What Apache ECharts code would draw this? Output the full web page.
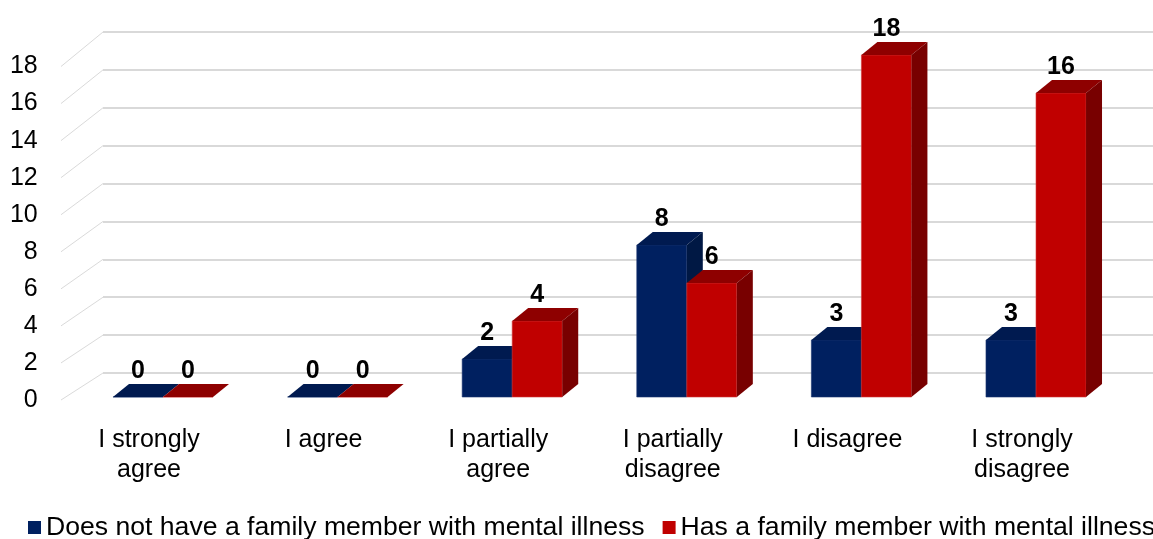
<!DOCTYPE html>
<html>
<head>
<meta charset="utf-8">
<script src="https://cdn.jsdelivr.net/npm/echarts@6/dist/echarts.min.js"></script>
<style>
  html, body { margin: 0; padding: 0; background: #fff; }
  #chart { width: 1153px; height: 539px; }
</style>
</head>
<body>
<div id="chart"></div>
<script>
// data
var categories = ['I strongly\nagree', 'I agree', 'I partially\nagree', 'I partially\ndisagree', 'I disagree', 'I strongly\ndisagree']
var noFamily = [0, 0, 2, 8, 3, 3]
var withFamily = [0, 0, 4, 6, 18, 16]
var seriesNames = ['Does not have a family member with mental illness', 'Has a family member with mental illness']

var FONT = '"Liberation Sans", Arial, sans-serif'

// 3d faces: front / top / side
var blue = { front: '#002060', top: '#001a50', side: '#001844', edge: '#1d3670' }
var red = { front: '#c00000', top: '#8e0000', side: '#780000', edge: '#d23a3a' }

function toPairs (values) {
    return values.map(function (v, i) { return [i, v] })
}

function barRender (side, col) {
    return function (params, api) {
        var cat = api.value(0)
        var val = api.value(1)
        var base = api.coord([cat, 0])
        var top = api.coord([cat, val])
        var band = api.size([1, 0])[0]
        var w = band * 0.2865
        var x0 = side < 0 ? base[0] - w : base[0]
        var x1 = x0 + w
        var yb = base[1]
        var yt = top[1]
        var dx = 16
        var dy = 13
        return {
            type: 'group',
            children: [
                {
                    type: 'rect',
                    shape: { x: x0, y: yt, width: w, height: yb - yt },
                    style: { fill: col.front, stroke: col.edge, lineWidth: 0.6 }
                },
                {
                    type: 'polygon',
                    shape: { points: [[x0, yt], [x1, yt], [x1 + dx, yt - dy], [x0 + dx, yt - dy]] },
                    style: { fill: col.top }
                },
                {
                    type: 'polygon',
                    shape: { points: [[x1, yt], [x1 + dx, yt - dy], [x1 + dx, yb - dy], [x1, yb]] },
                    style: { fill: col.side }
                },
                {
                    type: 'text',
                    x: x0 + w / 2,
                    y: yt - 26,
                    style: {
                        text: String(val),
                        fill: '#000',
                        font: 'bold 25px ' + FONT,
                        align: 'center',
                        verticalAlign: 'middle'
                    }
                }
            ]
        }
    }
}

var chart = echarts.init(document.getElementById('chart'))

var option = {
    backgroundColor: '#fff',
    animation: false,
    grid: [
        // bars
        { left: 75.7, right: 29.7, top: 17, bottom: 142 },
        // back wall
        { left: 103, right: 0, top: 32, bottom: 166 },
        // front edge with the labels
        { left: 61.7, right: 43.7, top: 66.5, bottom: 139 }
    ],
    xAxis: [
        { type: 'category', gridIndex: 0, data: categories, show: false },
        { type: 'category', gridIndex: 1, data: categories, show: false },
        {
            type: 'category',
            gridIndex: 2,
            data: categories,
            axisLine: { show: false },
            axisTick: { show: false },
            axisLabel: {
                interval: 0,
                margin: 25,
                color: '#000',
                fontFamily: FONT,
                fontSize: 25,
                lineHeight: 30
            }
        }
    ],
    yAxis: [
        { type: 'value', gridIndex: 0, min: 0, max: 20, show: false },
        {
            type: 'value',
            gridIndex: 1,
            min: 0,
            max: 18,
            interval: 2,
            axisLine: { show: false },
            axisTick: { show: false },
            axisLabel: { show: false },
            splitLine: { lineStyle: { color: '#d9d9d9', width: 2 } }
        },
        {
            type: 'value',
            gridIndex: 2,
            min: 0,
            max: 18,
            interval: 2,
            axisLine: { show: false },
            axisTick: { show: false },
            splitLine: { show: false },
            axisLabel: {
                margin: 24,
                color: '#000',
                fontFamily: FONT,
                fontSize: 25
            }
        }
    ],
    legend: {
        left: 28,
        top: 514,
        width: 2000,
        padding: 0,
        itemWidth: 13,
        itemHeight: 13,
        itemGap: 18,
        icon: 'rect',
        textStyle: { color: '#000', fontFamily: FONT, fontSize: 26.6 },
        data: seriesNames
    },
    series: [
        {
            name: seriesNames[0],
            type: 'custom',
            xAxisIndex: 0,
            yAxisIndex: 0,
            itemStyle: { color: blue.front },
            renderItem: barRender(-1, blue),
            data: toPairs(noFamily),
            z: 3
        },
        {
            name: seriesNames[1],
            type: 'custom',
            xAxisIndex: 0,
            yAxisIndex: 0,
            itemStyle: { color: red.front },
            renderItem: barRender(1, red),
            data: toPairs(withFamily),
            z: 3
        }
    ]
}

chart.setOption(option)

// slanted floor lines from the front label edge to the back wall
var diag = []
for (var v = 0; v <= 18; v += 2) {
    var yFront = chart.convertToPixel({ yAxisIndex: 2 }, v)
    var yBack = chart.convertToPixel({ yAxisIndex: 1 }, v)
    diag.push({
        type: 'line',
        shape: { x1: 61, y1: yFront, x2: 103, y2: yBack },
        style: { stroke: '#dadada', lineWidth: 1 },
        z: 0
    })
}
chart.setOption({ graphic: diag })
</script>
</body>
</html>
